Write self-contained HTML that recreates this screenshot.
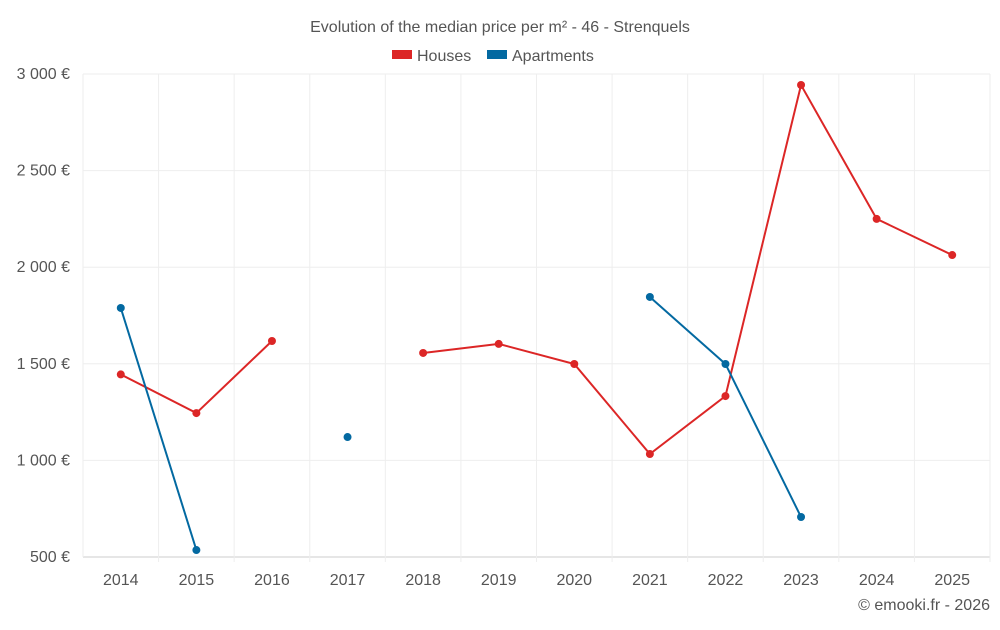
<!DOCTYPE html>
<html><head><meta charset="utf-8"><style>
body{margin:0;background:#fff;font-family:"Liberation Sans",sans-serif;}
svg text{font-family:"Liberation Sans",sans-serif;}
</style></head><body>
<svg id="c" width="1000" height="625">
<text x="500" y="32" text-anchor="middle" font-size="16" fill="#555">Evolution of the median price per m² - 46 - Strenquels</text>
<g>
<g><rect x="392" y="50" width="20" height="9" fill="#dc2626"/><text x="417" y="61" font-size="16" fill="#555">Houses</text></g>
<g><rect x="487" y="50" width="20" height="9" fill="#0369a1"/><text x="512" y="61" font-size="16" fill="#555">Apartments</text></g>
</g>
<g id="grid"></g><g id="axes"></g><g id="series"></g>
<text x="990" y="610" text-anchor="end" font-size="16" fill="#555">© emooki.fr - 2026</text>
</svg>
<script>
const years=[2014,2015,2016,2017,2018,2019,2020,2021,2022,2023,2024,2025];
const houses=[1445,1245,1618,null,1556,1603,1499,1033,1333,2943,2250,2063];
const apartments=[1789,536,null,1121,null,null,null,1846,1499,707,null,null];
const yTicks=[500,1000,1500,2000,2500,3000];
const yLabels=["500 €","1 000 €","1 500 €","2 000 €","2 500 €","3 000 €"];
const L=83,R=990,T=74,B=557,ns="http://www.w3.org/2000/svg";
const step=(R-L)/years.length;
const xs=i=>L+step*(i+0.5);
const ys=v=>B-(v-500)/2500*(B-T);
function mk(t,a,p){const e=document.createElementNS(ns,t);for(const k in a)e.setAttribute(k,a[k]);p.appendChild(e);return e;}
const g=document.getElementById('grid'),ax=document.getElementById('axes'),s=document.getElementById('series');
yTicks.forEach((v,i)=>{
 const l=mk('line',{x1:L,x2:R,y1:ys(v),y2:ys(v),stroke:i==0?'#ccc':'#eee'},g);
 
 
 const t=mk('text',{x:70,y:ys(v)+5,'text-anchor':'end','font-size':16,fill:'#555'},ax);t.textContent=yLabels[i];
 
 
});
for(let i=0;i<=years.length;i++){
 const l=mk('line',{x1:L+step*i,x2:L+step*i,y1:T,y2:B+(i>0?5:0),stroke:'#eee'},g);
 
 
}
years.forEach((y,i)=>{const t=mk('text',{x:xs(i),y:585,'text-anchor':'middle','font-size':16,fill:'#555'},ax);t.textContent=y;
 
 });
function draw(data,color,name){
 let seg=[];const segs=[];
 data.forEach((v,i)=>{if(v==null){if(seg.length)segs.push(seg);seg=[];}else seg.push([xs(i),ys(v)]);});
 if(seg.length)segs.push(seg);
 segs.forEach(sg=>{if(sg.length>1){const p=mk('polyline',{points:sg.map(q=>q.join(',')).join(' '),fill:'none',stroke:color,'stroke-width':2},s);
  
  }});
 data.forEach((v,i)=>{if(v!=null){const c=mk('circle',{cx:xs(i),cy:ys(v),r:4,fill:color},s);
  
  }});
}
draw(houses,'#dc2626','houses');
draw(apartments,'#0369a1','apartments');
</script>
</body></html>
